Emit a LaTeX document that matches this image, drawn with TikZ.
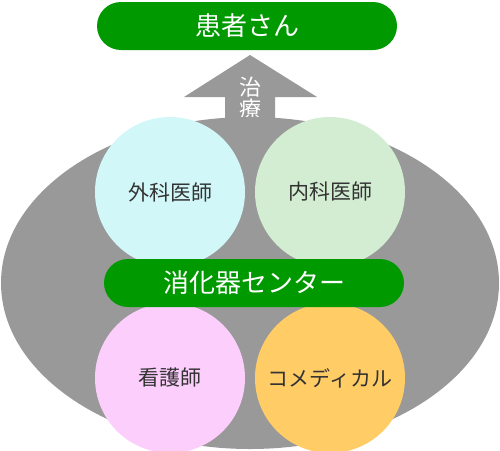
\documentclass[tikz,border=0pt]{standalone}
\usepackage{fontspec}
\setmainfont{Noto Sans CJK JP}
\usetikzlibrary{shapes.geometric}
\definecolor{bargreen}{HTML}{009900}
\definecolor{greyfill}{HTML}{999999}
\definecolor{cyanfill}{HTML}{D2F7F8}
\definecolor{greenfill}{HTML}{D2EDD2}
\definecolor{pinkfill}{HTML}{FCCEFC}
\definecolor{orangefill}{HTML}{FFCC66}
\definecolor{darktext}{HTML}{333333}
\tikzset{
  bar/.style={fill=bargreen, draw=none, rounded corners=24pt, minimum width=300pt, minimum height=48pt, inner sep=0pt, text=white, font=\fontsize{26}{28}\selectfont},
  member/.style={circle, draw=none, minimum size=150pt, inner sep=0pt, text=darktext, font=\fontsize{21}{24}\selectfont},
}
\begin{document}
\begin{tikzpicture}[x=1pt,y=-1pt]
\useasboundingbox (0,0) rectangle (500,450);
% arrow
\fill[greyfill] (225,140) -- (225,97) -- (184,97) -- (250,55) -- (317,97) -- (275,97) -- (275,140) -- cycle;
\node[text=white, font=\fontsize{22}{24}\selectfont, align=center, inner sep=0pt] (treat) at (250,98) {治\\[-2pt]療};
% ellipse
\node[ellipse, fill=greyfill, draw=none, minimum width=498pt, minimum height=332pt, inner sep=0pt] (center) at (250,283) {};
\node[member, fill=cyanfill] (geka) at (170,192) {外科医師};
\node[member, fill=greenfill] (naika) at (330,192) {内科医師};
\node[member, fill=pinkfill] (kango) at (170,378) {看護師};
\node[member, fill=orangefill] (comed) at (330,378) {コメディカル};
\node[bar] (shoukaki) at (254,283) {消化器センター};
\node[bar] (patient) at (247,26) {患者さん};
\end{tikzpicture}
\end{document}
